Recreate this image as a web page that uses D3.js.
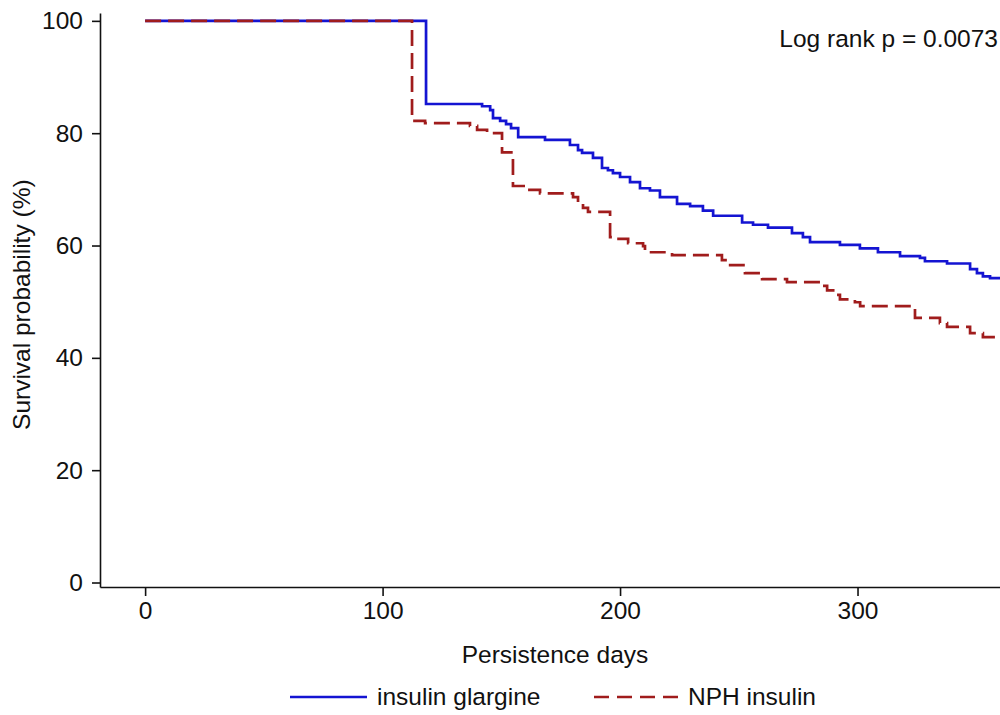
<!DOCTYPE html>
<html>
<head>
<meta charset="utf-8">
<script src="https://cdn.jsdelivr.net/npm/d3@7"></script>
<style>
  body { margin: 0; background: #fff; }
  svg { display: block; font-family: "Liberation Sans", Arial, sans-serif; }
</style>
</head>
<body>
<script>
const width = 1000;
const height = 715;

// Kaplan-Meier steps (day, survival %)
const glargineDays = [0, 118.3, 141.9, 145.3, 146.5, 149.5, 152, 154.1, 157.1, 168.4, 178.9, 182.3, 184, 188.6,
  192.4, 194.9, 197, 200, 204.2, 208.4, 212.6, 216.8, 224, 229.5, 234.9, 239.2, 251.4, 256, 262.3, 272.4,
  277, 280, 292.6, 301, 308.6, 317.9, 326.3, 328.4, 337.7, 347.4, 350.3, 352.8, 355.8];
const glargineSurv = [100, 85.2, 84.8, 84.1, 82.7, 82.2, 81.6, 80.9, 79.3, 78.8, 77.9, 77.0, 76.5, 75.6,
  73.8, 73.4, 72.9, 72.2, 71.3, 70.2, 69.8, 68.6, 67.4, 67.0, 66.2, 65.3, 64.1, 63.7, 63.2, 62.2,
  61.5, 60.6, 60.1, 59.5, 58.8, 58.1, 57.8, 57.2, 56.8, 55.8, 55.1, 54.5, 54.2];

const nphDays = [0, 112.4, 117.9, 136.8, 139.8, 144, 150.3, 154.9, 160.8, 166.3, 180.2, 182.3, 184.4, 186.5,
  195.8, 198.7, 203.4, 209.7, 210.5, 221.9, 242.9, 245.5, 252.6, 259.8, 270.3, 284.2, 287.2, 290.5,
  292.6, 298.9, 301.1, 324.2, 334.7, 337.7, 347.4, 352.8];
const nphSurv = [100, 82.2, 81.8, 81.3, 80.6, 80.0, 76.6, 70.6, 69.9, 69.3, 68.6, 67.7, 66.7, 66.0,
  61.5, 61.2, 60.4, 59.9, 58.8, 58.3, 57.4, 56.5, 55.1, 54.0, 53.5, 52.8, 52.0, 51.2,
  50.4, 49.9, 49.2, 47.1, 46.2, 45.5, 44.4, 43.7];

const followUpEnd = 360;
const xTicks = [0, 100, 200, 300];
const yTicks = [0, 20, 40, 60, 80, 100];
const seriesNames = ["insulin glargine", "NPH insulin"];
const seriesColors = ["#1414d2", "#a01c1c"];
const pValueText = "Log rank p = 0.0073";

const svg = d3.select("body").append("svg")
  .attr("width", width)
  .attr("height", height);

const x = d3.scaleLinear().domain([-19, followUpEnd]).range([100, 1000]);
const y = d3.scaleLinear().domain([-0.8, 101.4]).range([587, 13]);

const fontSize = 24.5;

// y axis
const yAxis = svg.append("g")
  .attr("transform", `translate(${x.range()[0]},0)`)
  .call(d3.axisLeft(y).tickValues(yTicks).tickSize(8).tickPadding(9).tickSizeOuter(0));
// x axis
const xAxis = svg.append("g")
  .attr("transform", `translate(0,${y.range()[0]})`)
  .call(d3.axisBottom(x).tickValues(xTicks).tickSize(9).tickPadding(6).tickSizeOuter(0));

[xAxis, yAxis].forEach(a => {
  a.selectAll("path, line").attr("stroke", "#111").attr("stroke-width", 1.6);
  a.selectAll("text").attr("font-size", fontSize).attr("fill", "#111").attr("font-family", null);
});

svg.append("text")
  .attr("x", (x(-19) + x(followUpEnd)) / 2 + 5)
  .attr("y", 663)
  .attr("text-anchor", "middle")
  .attr("font-size", fontSize)
  .attr("fill", "#111")
  .text("Persistence days");

svg.append("text")
  .attr("transform", `translate(30,${y(50) + 3}) rotate(-90)`)
  .attr("text-anchor", "middle")
  .attr("font-size", fontSize)
  .attr("fill", "#111")
  .text("Survival probability (%)");

svg.append("text")
  .attr("x", 998)
  .attr("y", 47)
  .attr("text-anchor", "end")
  .attr("font-size", fontSize)
  .attr("fill", "#111")
  .text(pValueText);

// curves
const line = d3.line()
  .x(d => x(d[0]))
  .y(d => y(d[1]))
  .curve(d3.curveStepAfter);

const toPoints = (days, surv) => {
  const pts = days.map((d, i) => [d, surv[i]]);
  pts.push([followUpEnd, surv[surv.length - 1]]);
  return pts;
};

const series = [
  { name: seriesNames[0], points: toPoints(glargineDays, glargineSurv), color: seriesColors[0], dash: null },
  { name: seriesNames[1], points: toPoints(nphDays, nphSurv), color: seriesColors[1], dash: "16,7" }
];

svg.append("g").selectAll("path.km")
  .data(series)
  .join("path")
  .attr("class", "km")
  .attr("d", d => line(d.points))
  .attr("fill", "none")
  .attr("stroke", d => d.color)
  .attr("stroke-width", 2.7)
  .attr("stroke-dasharray", d => d.dash);

// legend
const legendY = 697;
const legendItems = [
  { x0: 290, x1: 367, tx: 377 },
  { x0: 594, x1: 678, tx: 688 }
];
const lg = svg.append("g").selectAll("g")
  .data(series)
  .join("g");
lg.append("line")
  .attr("x1", (d, i) => legendItems[i].x0)
  .attr("x2", (d, i) => legendItems[i].x1)
  .attr("y1", legendY)
  .attr("y2", legendY)
  .attr("stroke", d => d.color)
  .attr("stroke-width", 2.7)
  .attr("stroke-dasharray", d => d.dash ? "15,8" : null);
lg.append("text")
  .attr("x", (d, i) => legendItems[i].tx)
  .attr("y", legendY + 8)
  .attr("font-size", fontSize)
  .attr("fill", "#111")
  .text(d => d.name);
</script>
</body>
</html>
